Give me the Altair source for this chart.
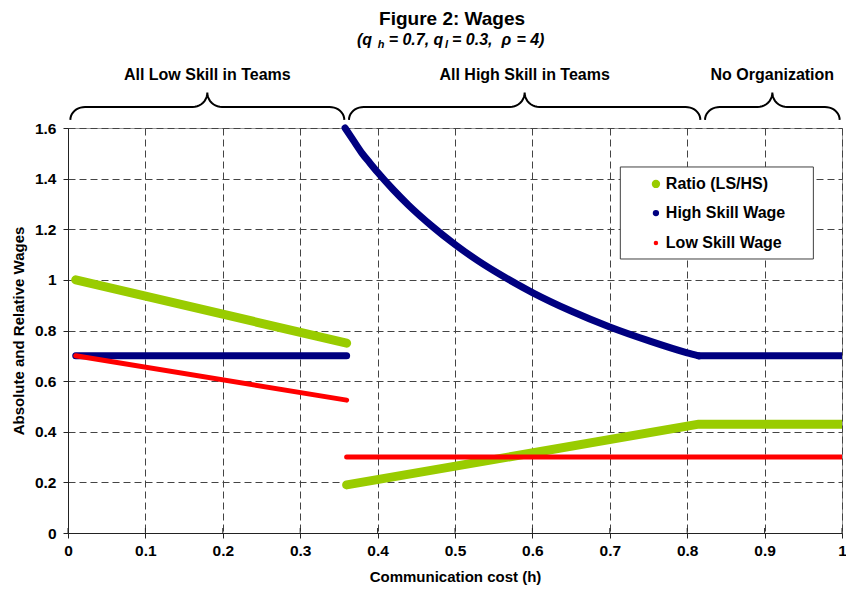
import math
import altair as alt
import pandas as pd

FONT = "Liberation Sans"

# ---------------- data ----------------
series_names = ["Ratio (LS/HS)", "High Skill Wage", "Low Skill Wage"]
series_colors = ["#99CC00", "#000080", "#FF0000"]

# Ratio (LS/HS)
ratio_h_a = [0.01, 0.36]
ratio_v_a = [1.00, 0.75]
ratio_h_b = [0.36, 0.815, 1.0]
ratio_v_b = [0.19, 0.43, 0.43]

# High skill wage
high_h_a = [0.01, 0.36]
high_v_a = [0.70, 0.70]
high_h_b = [0.358, 0.37, 0.38, 0.39, 0.40, 0.42, 0.44, 0.47, 0.50, 0.53, 0.56,
            0.60, 0.65, 0.70, 0.75, 0.80, 0.815]
high_v_b = [1.600, 1.545, 1.500, 1.462, 1.425, 1.357, 1.295, 1.213, 1.140, 1.075, 1.018,
            0.950, 0.877, 0.814, 0.760, 0.712, 0.700]
high_h_c = [0.815, 1.0]
high_v_c = [0.70, 0.70]

# Low skill wage
low_h_a = [0.01, 0.36]
low_v_a = [0.70, 0.525]
low_h_b = [0.36, 1.0]
low_v_b = [0.30, 0.30]

# regime boundaries and labels
regime_bounds = [0.0, 0.36, 0.82, 1.0]
regime_labels = ["All Low Skill in Teams", "All High Skill in Teams", "No Organization"]

x_ticks = [0, 0.1, 0.2, 0.3, 0.4, 0.5, 0.6, 0.7, 0.8, 0.9, 1]
y_ticks = [0, 0.2, 0.4, 0.6, 0.8, 1.0, 1.2, 1.4, 1.6]

W, H = 774, 405


def seg(hs, vs, sid):
    return pd.DataFrame({"h": hs, "v": vs, "i": list(range(len(hs))), "s": sid})


X = alt.X("h:Q", scale=alt.Scale(domain=[0, 1], nice=False, zero=False),
          axis=alt.Axis(values=x_ticks, format="~g", title="Communication cost (h)",
                        labelFlush=False, titleY=43, titleBaseline="middle"))
Y = alt.Y("v:Q", scale=alt.Scale(domain=[0, 1.6], nice=False, zero=False),
          axis=alt.Axis(values=y_ticks, format="~g", title="Absolute and Relative Wages",
                        labelFlush=False, titleX=-50, titleBaseline="middle"))


def line_layer(df, color, width, clip=True, interp="linear"):
    return alt.Chart(df).mark_line(color=color, strokeWidth=width, strokeCap="round",
                                   strokeJoin="round", clip=clip, interpolate=interp).encode(
        x=X, y=Y, order="i:Q", detail="s:N")


layers = []
# small inner ticks on the x axis (ticks cross the axis line)
tick_df = pd.DataFrame({"h": x_ticks})
layers.append(alt.Chart(tick_df).mark_rule(color="#222222", strokeWidth=1).encode(
    x=X, y=alt.value(H - 5), y2=alt.value(H)))
# Ratio
layers.append(line_layer(pd.concat([seg(ratio_h_a, ratio_v_a, "a"), seg(ratio_h_b, ratio_v_b, "b")]),
                         series_colors[0], 9))
# High skill
layers.append(line_layer(pd.concat([seg(high_h_a, high_v_a, "a"), seg(high_h_c, high_v_c, "c")]),
                         series_colors[1], 7))
layers.append(line_layer(seg(high_h_b, high_v_b, "b"), series_colors[1], 7, clip=False,
                         interp="monotone"))
# Low skill
layers.append(line_layer(pd.concat([seg(low_h_a, low_v_a, "a"), seg(low_h_b, low_v_b, "b")]),
                         series_colors[2], 5))

# ---------------- braces above the plot ----------------
V_TIP, V_MID, V_PEAK = 1.632, 1.683, 1.740
RX = 0.019


def brace(x0, x1, sid, n=10):
    xc = (x0 + x1) / 2
    ry_e = V_MID - V_TIP
    ry_c = V_PEAK - V_MID
    pts = []
    for k in range(n + 1):
        a = math.radians(180 - 90 * k / n)
        pts.append((x0 + RX + RX * math.cos(a), V_TIP + ry_e * math.sin(a)))
    for k in range(n + 1):
        a = math.radians(270 + 90 * k / n)
        pts.append((xc - RX + RX * math.cos(a), V_PEAK + ry_c * math.sin(a)))
    for k in range(n + 1):
        a = math.radians(180 + 90 * k / n)
        pts.append((xc + RX + RX * math.cos(a), V_PEAK + ry_c * math.sin(a)))
    for k in range(n + 1):
        a = math.radians(90 - 90 * k / n)
        pts.append((x1 - RX + RX * math.cos(a), V_TIP + ry_e * math.sin(a)))
    return pd.DataFrame({"h": [p[0] for p in pts], "v": [p[1] for p in pts],
                         "i": list(range(len(pts))), "s": sid})


gap = 0.003
braces = pd.concat([brace(regime_bounds[k] + gap, regime_bounds[k + 1] - gap, str(k))
                    for k in range(3)])
layers.append(alt.Chart(braces).mark_line(color="black", strokeWidth=2, clip=False).encode(
    x=X, y=Y, order="i:Q", detail="s:N"))

reg_df = pd.DataFrame({
    "h": [(regime_bounds[k] + regime_bounds[k + 1]) / 2 for k in range(3)],
    "v": [1.809] * 3,
    "t": regime_labels,
})
layers.append(alt.Chart(reg_df).mark_text(font=FONT, fontSize=16, fontWeight="bold",
                                          color="black", baseline="middle", align="center").encode(
    x=X, y=Y, text="t:N"))

# ---------------- title ----------------
title_df = pd.DataFrame({"h": [0.4962], "v": [2.007], "t": ["Figure 2: Wages"]})
layers.append(alt.Chart(title_df).mark_text(font=FONT, fontSize=19, fontWeight="bold",
                                            color="black", baseline="alphabetic", align="center").encode(
    x=X, y=Y, text="t:N"))

sub_main = pd.DataFrame({
    "h": [0.3734, 0.4143, 0.4962, 0.5601, 0.5793],
    "v": [1.928] * 5,
    "t": ["(q", "= 0.7, q", "= 0.3,", "ρ", "= 4)"],
})
layers.append(alt.Chart(sub_main).mark_text(font=FONT, fontSize=16, fontWeight="bold",
                                            fontStyle="italic", color="black",
                                            baseline="alphabetic", align="left").encode(
    x=X, y=Y, text="t:N"))
sub_idx = pd.DataFrame({"h": [0.4003, 0.4872], "v": [1.916] * 2, "t": ["h", "l"]})
layers.append(alt.Chart(sub_idx).mark_text(font=FONT, fontSize=11, fontWeight="bold",
                                           fontStyle="italic", color="black",
                                           baseline="alphabetic", align="left").encode(
    x=X, y=Y, text="t:N"))

# ---------------- legend ----------------
box_df = pd.DataFrame({"h": [0.7136], "h2": [0.963], "v": [1.446], "v2": [1.0825]})
layers.append(alt.Chart(box_df).mark_rect(fill="white", stroke="#404040", strokeWidth=1).encode(
    x=X, x2="h2:Q", y=Y, y2="v2:Q"))

leg_v = [1.379, 1.264, 1.146]
leg_sizes = [70, 40, 20]
for name, col, vv, sz in zip(series_names, series_colors, leg_v, leg_sizes):
    d = pd.DataFrame({"h": [0.7596], "v": [vv], "t": [name], "h_t": [0.7724]})
    layers.append(alt.Chart(d).mark_circle(color=col, opacity=1, size=sz).encode(x=X, y=Y))
    layers.append(alt.Chart(d).mark_text(font=FONT, fontSize=16, fontWeight="bold", color="black",
                                         align="left", baseline="middle").encode(
        x=alt.X("h_t:Q"), y=Y, text="t:N"))

chart = alt.layer(*layers).properties(
    width=W, height=H,
    autosize=alt.AutoSizeParams(type="none"),
    padding={"left": 60, "top": 120, "right": 4, "bottom": 53},
    background="white",
).configure_view(stroke="#999999", strokeWidth=1).configure_axis(
    labelFont=FONT, labelFontSize=15.5, labelFontWeight="bold", labelColor="black",
    titleFont=FONT, titleFontSize=15, titleFontWeight="bold", titleColor="black",
    domainColor="#222222", domainWidth=1, tickColor="#222222", tickSize=5,
    gridColor="#444444", gridDash=[7, 4], gridWidth=1, labelOverlap=False,
).configure_axisX(labelPadding=5).configure_axisY(labelPadding=7)

chart.save("out.html", embed_options={"renderer": "svg", "actions": False})
